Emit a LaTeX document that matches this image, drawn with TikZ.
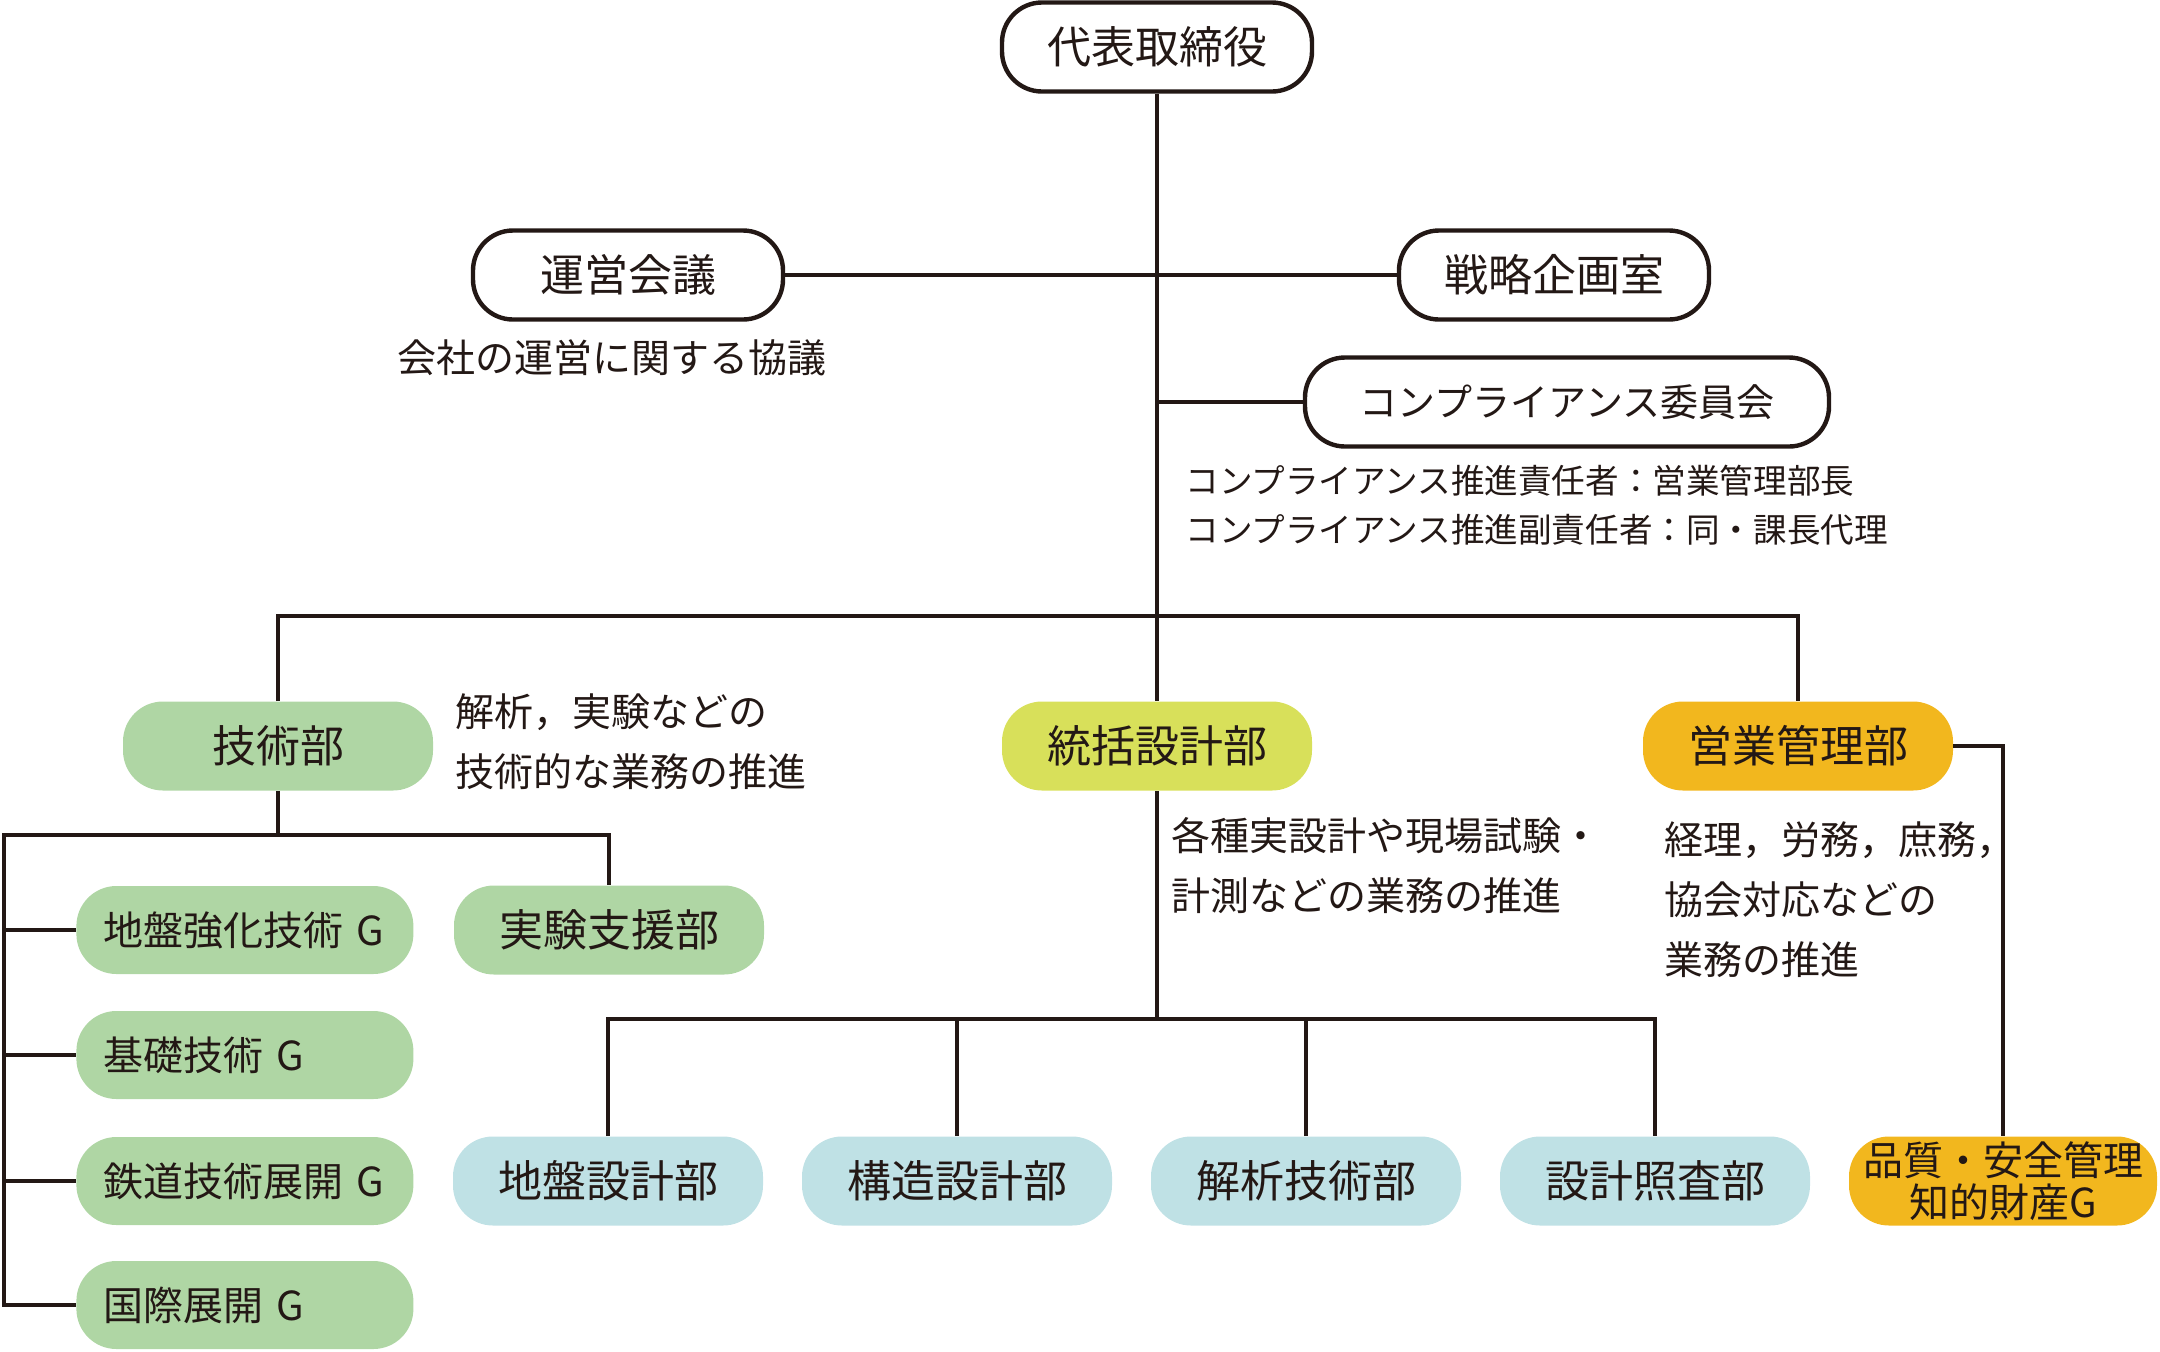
\documentclass[tikz,border=0pt]{standalone}
\usepackage{fontspec}
\setmainfont{Noto Sans CJK JP}
\definecolor{ink}{HTML}{231815}
\definecolor{midori}{HTML}{AFD6A4}
\definecolor{kimidori}{HTML}{D8E05A}
\definecolor{daidai}{HTML}{F2B71E}
\definecolor{mizu}{HTML}{BFE1E5}
\tikzset{
  bu/.style={rounded corners=20pt, minimum width=155pt, minimum height=44.5pt,
    inner sep=0pt, text=ink, font=\fontsize{22pt}{22pt}\selectfont},
  yakuin/.style={bu, draw=ink, line width=2.2pt, fill=white},
  gbu/.style={bu, fill=midori},
  kbu/.style={bu, fill=kimidori},
  obu/.style={bu, fill=daidai},
  mbu/.style={bu, fill=mizu},
  group/.style={gbu, anchor=west, minimum width=168.5pt, minimum height=44pt,
    text width=141.5pt, align=left, inner xsep=13.5pt, font=\fontsize{20pt}{20pt}\selectfont},
  setsumei/.style={align=left, anchor=west, inner sep=0pt, text=ink,
    font=\fontsize{19.5pt}{30pt}\selectfont},
  sen/.style={draw=ink, line width=2.2pt}
}
\begin{document}
\begin{tikzpicture}[x=0.5pt,y=-0.5pt]
    \useasboundingbox (0,0) rectangle (2160,1351);

    \node[yakuin] (daihyo) at (1157,47) {代表取締役};
    \node[yakuin] (unei) at (628,275) {運営会議};
    \node[yakuin] (senryaku) at (1554,275) {戦略企画室};
    \node[yakuin, minimum width=262pt, font=\fontsize{19pt}{19pt}\selectfont] (comp) at (1567,402) {コンプライアンス委員会};

    \node[setsumei, anchor=center, align=center] (unei-txt) at (612,358) {会社の運営に関する協議};
    \node[setsumei, font=\fontsize{16.8pt}{24.8pt}\selectfont] (comp-txt) at (1185,505)
        {コンプライアンス推進責任者：営業管理部長\\コンプライアンス推進副責任者：同・課長代理};

    \node[gbu] (gijutsu) at (278,746) {技術部};
    \node[kbu] (tokatsu) at (1157,746) {統括設計部};
    \node[obu] (eigyo) at (1798,746) {営業管理部};

    \node[setsumei] (gijutsu-txt) at (455,742) {解析，実験などの\\技術的な業務の推進};
    \node[setsumei] (tokatsu-txt) at (1171,866) {各種実設計や現場試験・\\計測などの業務の推進};
    \node[setsumei] (eigyo-txt) at (1664,900) {経理，労務，庶務，\\協会対応などの\\業務の推進};

    \foreach \y/\n/\t in {930/jiban/地盤強化技術~G, 1055/kiso/基礎技術~G, 1181/tetsudo/鉄道技術展開~G, 1305/kokusai/国際展開~G}
        \node[group] (\n) at (76,\y) {\t};
    \node[gbu] (jikken) at (609,930) {実験支援部};

    \foreach \x/\n/\t in {608/jbsk/地盤設計部, 957/kozo/構造設計部, 1306/kaiseki/解析技術部, 1655/shosa/設計照査部}
        \node[mbu] (\n) at (\x,1181) {\t};
    \node[obu, minimum width=154pt, align=center, font=\fontsize{20pt}{21pt}\selectfont] (hinshitsu) at (2003,1181)
        {品質・安全管理\\知的財産G};

    \coordinate (honbus) at (1157,616);
    \coordinate (gbus) at (4,835);
    \coordinate (sbus) at (1157,1019);

    \draw[sen] (daihyo.south) -- (tokatsu.north);
    \draw[sen] (unei.east) -- (senryaku.west);
    \draw[sen] (comp.west) -- (comp.west -| daihyo.south);
    \draw[sen] (gijutsu.north) |- (honbus) -| (eigyo.north);
    \draw[sen] (eigyo.east) -| (hinshitsu.north);

    \draw[sen] (gijutsu.south) -- (gijutsu.south |- gbus);
    \draw[sen] (kokusai.west) -| (gbus) -| (jikken.north);
    \foreach \n in {jiban,kiso,tetsudo}
        \draw[sen] (gbus |- \n.west) -- (\n.west);

    \draw[sen] (tokatsu.south) -- (sbus);
    \draw[sen] (jbsk.north) |- (sbus) -| (shosa.north);
    \foreach \n in {kozo,kaiseki}
        \draw[sen] (\n.north) -- (\n.north |- sbus);
\end{tikzpicture}
\end{document}
